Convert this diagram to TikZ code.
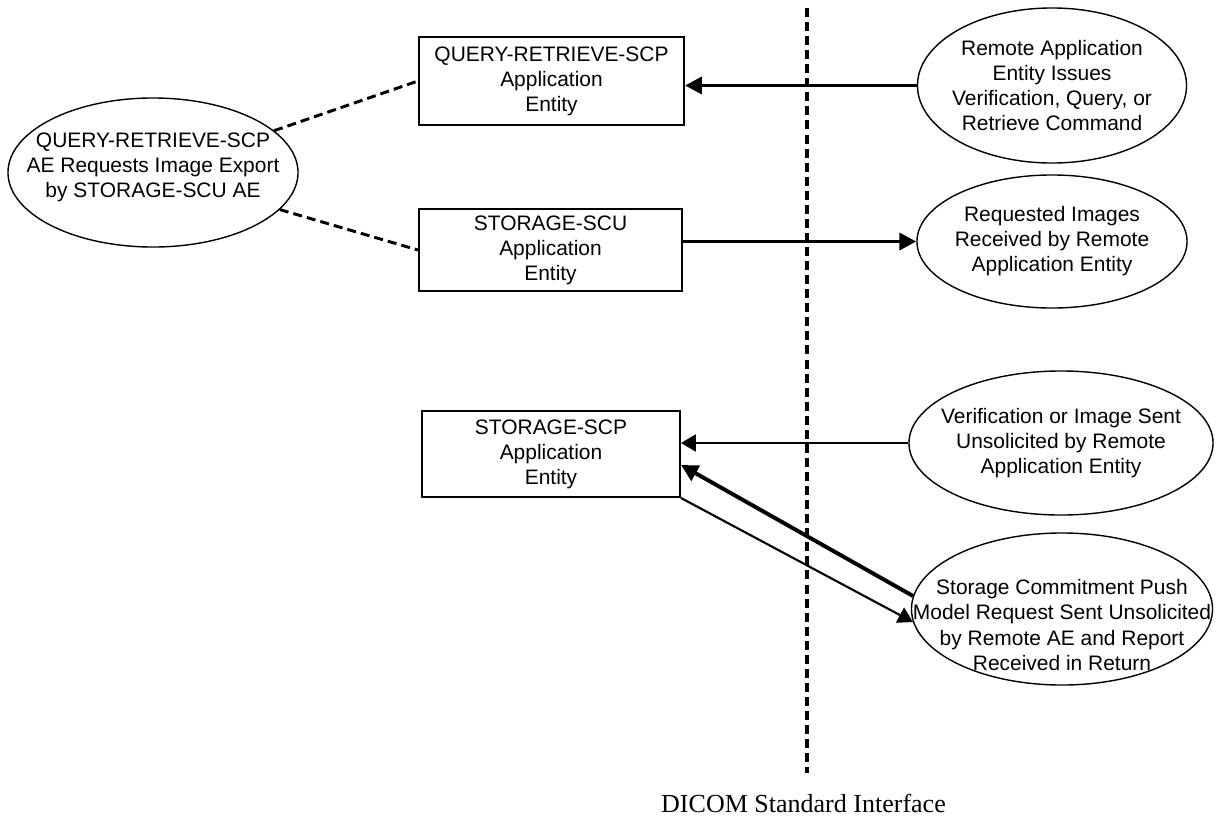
\documentclass[tikz,border=0pt]{standalone}
\usepackage{fontspec}
\setmainfont{Liberation Sans}
\newfontfamily\serifface{Liberation Serif}
\usetikzlibrary{shapes, arrows.meta, positioning, calc}

\begin{document}
\begin{tikzpicture}[
                x = 0.025cm, y = -0.025cm,
                every node/.style={font=\fontsize{14.9}{17.8}\selectfont, align=center, inner sep=0pt},
                entity/.style={rectangle, draw, line width=1.4pt},
                event/.style={ellipse, draw, line width=1pt},
                line/.style={-{Triangle[length=12pt,width=12pt]}, line width=2.8pt},
                thinline/.style={-{Triangle[length=10.5pt,width=12pt]}, line width=1.5pt},
                link/.style={line width=2.1pt, dash pattern=on 6.4pt off 3.6pt},
                interface/.style={line width=2.5pt, dash pattern=on 6.4pt off 3.6pt}
            ]
            \useasboundingbox (0,0) rectangle (1222,816);

            \node[entity, minimum width=6.625cm, minimum height=2.2cm] (QR) at (551.5,81) {QUERY-RETRIEVE-SCP\\Application\\Entity};
            \node[entity, minimum width=6.575cm, minimum height=2.05cm] (SCU) at (550.5,250) {STORAGE-SCU\\Application\\Entity};
            \node[entity, minimum width=6.45cm, minimum height=2.15cm] (SCP) at (551,454) {STORAGE-SCP\\Application\\Entity};

            \node[event, minimum width=7.25cm, minimum height=3.725cm,
                  label={[name=EXt, yshift=0.12cm]center:{QUERY-RETRIEVE-SCP\\AE Requests Image Export\\by STORAGE-SCU AE}}] (EX) at (153,172.5) {};
            \node[event, minimum width=6.725cm, minimum height=3.875cm,
                  label={[name=RCt]center:{Remote Application\\Entity Issues\\Verification, Query, or\\Retrieve Command}}] (RC) at (1052,85.5) {};
            \node[event, minimum width=6.75cm, minimum height=3.325cm,
                  label={[name=RIt]center:{Requested Images\\Received by Remote\\Application Entity}}] (RI) at (1052,241.5) {};
            \node[event, minimum width=7.6cm, minimum height=3.6cm,
                  label={[name=VSt]center:{Verification or Image Sent\\Unsolicited by Remote\\Application Entity}}] (VS) at (1061,443) {};
            \node[event, minimum width=7.525cm, minimum height=3.8cm,
                  label={[name=SCt, yshift=-0.4cm]center:{Storage Commitment Push\\Model Request Sent Unsolicited\\by Remote AE and Report\\Received in Return}}] (SC) at (1062,609) {};

            \coordinate (Itop) at (807,8);
            \coordinate (Ibot) at (807,773);
            \draw[interface] (Itop) -- (Ibot);
            \node[font=\serifface\fontsize{18.5}{22}\selectfont, anchor=base] (I) at (803.5,812) {DICOM Standard Interface};

            \draw[link] (EX) -- (QR.west);
            \draw[link] (EX) -- (SCU.west);

            \draw[line] (RC.west) -- (RC.west -| QR.east);
            \draw[line] (SCU.east |- RI.west) -- (RI.west);
            \draw[thinline] (VS.west) -- (VS.west -| SCP.east);
            \draw[line] (SC.175) -- ($(SCP.east)!0.25!(SCP.south east)$);
            \draw[thinline] (SCP.south east) -- (SC.185);
        \end{tikzpicture}
\end{document}
